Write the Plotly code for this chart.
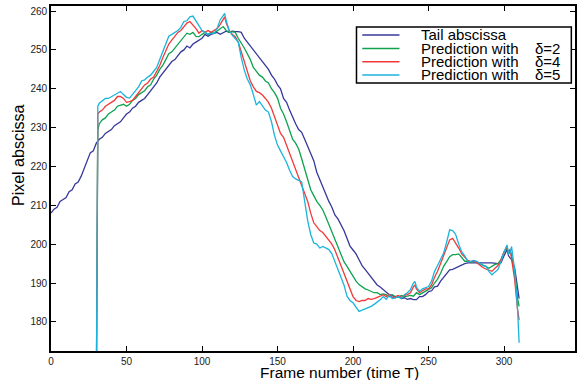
import plotly.graph_objects as go

# ---- data: (frame, pixel abscissa) ----
tail = [(0,208),(2,209),(4,209.5),(6,211),(8,211.5),(10,212),(12,213.5),(14,214),(16,215.5),(18,216),
        (20,217.5),(22,219.5),(24,221),(26,223.5),(28,224),(30,226),(32,227),(34,227.5),(36,228.5),(38,229),
        (40,229.5),(42,230.5),(44,231),(46,231.5),(48,232.5),(50,233.5),(52,234),(54,235),(56,235.5),(58,236.5),
        (60,237),(62,237.5),(64,238.5),(66,239.5),(68,240.5),(70,241.5),(72,243),(74,244),(76,245),(78,246),
        (80,247),(82,247.5),(84,248.5),(86,249.5),(88,250),(90,251),(92,250.5),(94,251.5),(96,252),(98,252.5),
        (100,253),(102,254),(104,253.5),(106,254),(108,254.2),(110,254.5),(112,254),(114,254.5),(116,254.8),(118,254.5),
        (120,254.8),(122,254.7),(124,254.7),(126,254.5),(128,253),(130,252),(132,251),(134,250),(136,249),(138,248),
        (140,246.8),(142,245.8),(144,245),(146,243.5),(148,242.5),(150,241),(152,240),(154,237.5),(156,236.5),(158,234.5),
        (160,232.5),(162,231),(164,229.5),(166,228.8),(168,227),(170,225),(172,223.5),(174,221.5),(176,218.5),(178,216.5),
        (180,215),(182,213),(184,211),(186,209.5),(188,207.5),(190,206.5),(192,205),(194,203.5),(196,201.5),(198,199.5),
        (200,198.5),(202,197.5),(204,196),(206,194.5),(208,193.5),(210,192.5),(212,191.2),(214,190.5),(216,189.5),(218,189),
        (220,188.3),(222,187.5),(224,187),(226,186.8),(228,186.2),(230,186.5),(232,186),(234,186.2),(236,185.8),(238,186),
        (240,185.7),(242,185.7),(244,186.5),(246,186.5),(248,187),(250,187.8),(252,188),(254,189),(256,189.2),(258,190.5),
        (260,191.5),(262,192.5),(264,193.4),(266,193.5),(268,193.9),(270,194.2),(272,194.8),(274,195),(276,195.2),(280,195.2),
        (284,195.3),(288,195.2),(292,195.2),(296,195),(298,195.2),(300,197),(302,198.6),(303,197),(305,196),(307,194),
        (309,188),(310,186)]

pred_d2 = [(30,160),(31,229.5),(32,231),(34,232),(36,232.5),(38,233.5),(40,234),(42,234.5),(44,235.5),(46,235.8),
           (48,236),(50,235.5),(52,236),(54,237),(56,237.5),(58,238.5),(60,239),(62,239.5),(64,240.5),(66,241),
           (68,242.5),(70,243.5),(72,245),(74,246),(76,247.5),(78,249),(80,249.5),(82,250.5),(84,251.5),(86,252.5),
           (88,253.5),(90,254.3),(92,254),(94,254.5),(96,253.5),(98,253.4),(100,254),(102,254.5),(104,254),(106,254.5),
           (108,254.3),(110,254.8),(112,255.5),(114,256),(116,255),(118,254.5),(120,254.7),(122,254.5),(124,253),(126,251.8),
           (128,250.5),(130,249),(132,247.5),(134,245.5),(136,244.4),(138,243.5),(140,243),(142,242),(144,241.5),(146,240),
           (148,239),(150,237.6),(152,235),(154,233.5),(156,231.5),(158,229),(160,227),(162,226),(164,224.5),(166,222),
           (168,219.5),(170,216.5),(172,214),(174,212.5),(176,211),(178,210),(180,208.8),(182,207),(184,205),(186,203.5),
           (188,201),(190,199),(192,197),(194,195.5),(196,194.3),(198,193),(200,192),(202,190.5),(204,189.6),(206,189),
           (208,188.5),(210,188.2),(212,187.8),(214,187.5),(216,187.5),(218,187),(220,187.2),(222,187),(224,186.5),(226,187),
           (228,186.5),(230,186.3),(232,186.8),(234,186.5),(236,186.6),(238,186.8),(240,186.6),(242,187.5),(244,187),(246,187.5),
           (248,187.8),(250,188.3),(252,188.8),(254,190),(256,191),(258,192.5),(260,194.3),(262,195.5),(264,196.8),(266,197.3),
           (268,197.3),(270,197.5),(272,196.5),(274,195.6),(276,195.6),(278,195.3),(280,195.6),(282,195.3),(284,195),(286,194.5),
           (288,194.3),(290,193.8),(292,194.3),(294,194.8),(296,195),(298,196),(300,198),(302,199),(303,197.5),(304,198.5),
           (305,197),(307,193),(309,186),(310,184)]

pred_d4 = [(30,160),(31,233.5),(32,234),(34,234.5),(36,235.5),(38,236),(40,236.5),(42,237),(44,238),(46,238),
           (48,237.5),(50,236.5),(52,236.7),(54,237),(56,238),(58,239),(60,240),(62,241),(64,241.5),(66,242.5),
           (68,243),(70,244.5),(72,246),(74,248),(76,250),(78,251.5),(80,252.5),(82,253.5),(84,254.5),(86,255),
           (88,256),(90,256.9),(92,257.3),(94,256.5),(96,255.5),(98,254.3),(100,255),(102,254.5),(104,255),(106,254.5),
           (108,255),(110,255.5),(112,256.5),(114,258),(115,258.5),(116,257),(118,255),(120,254),(122,253.4),(124,252),
           (126,249.5),(128,247),(130,244.5),(132,242),(134,240.5),(136,239.3),(138,239),(140,238.4),(142,237.5),(144,236.5),
           (146,235),(148,233),(150,231),(152,228.5),(154,227.5),(156,225.5),(158,223.5),(160,221),(162,219.5),(164,217.5),
           (166,215.5),(168,213.5),(170,211),(172,208),(174,205.5),(176,204.5),(178,203.5),(180,203),(182,202),(184,201.1),
           (186,200),(188,198.5),(190,196.5),(192,194.5),(194,192.5),(196,190.5),(198,188),(200,186.5),(202,185.5),(204,185.2),
           (206,185.5),(208,185.5),(210,186),(212,185.8),(214,186),(216,186.2),(218,186.6),(220,187),(222,186.5),(224,187),
           (226,186.2),(228,186.5),(230,186.8),(232,186.3),(234,186.8),(236,187),(238,187.5),(240,189),(241,189.5),(242,188.5),
           (244,187.5),(246,188),(248,188.5),(250,188.5),(252,189.5),(254,191.5),(256,193),(258,195),(260,197),(262,199.5),
           (264,201.1),(266,201.5),(268,200.3),(270,199),(272,197.5),(274,196.5),(276,195.8),(278,195.5),(280,195.8),(282,195.2),
           (284,194.5),(286,194),(288,193.6),(290,193.4),(292,193),(294,193.8),(296,194.5),(298,196),(300,198),(302,199.4),
           (303,197.5),(304,198.8),(305,196.5),(307,191),(309,183),(310,180.5)]

pred_d5 = [(30,160),(31,235.5),(32,236.3),(34,237),(36,237.5),(38,237.5),(40,238),(42,238.5),(44,239),(46,239.3),
           (48,238.5),(50,237.8),(52,237.6),(54,238.5),(56,239.5),(58,240.5),(60,242),(62,242.3),(64,243),(66,243.5),
           (68,244.5),(70,245.5),(72,247.5),(74,249.5),(76,251.5),(78,253.5),(80,254),(82,254.5),(84,255),(86,255.8),
           (88,257.3),(90,257.5),(92,258.5),(94,258.7),(96,257.5),(98,256),(100,255),(102,254.5),(104,254),(106,254.2),
           (108,254.3),(110,255.5),(112,257.7),(114,258.8),(115,259.4),(116,257.5),(118,255),(120,253.8),(122,253),(124,252),
           (126,248),(128,244.8),(130,242.5),(132,241),(134,238.5),(136,235.8),(138,236.7),(140,235.5),(142,234.5),(144,234),
           (146,231.5),(148,228),(150,225.5),(152,224),(154,222.5),(156,221),(158,219),(160,217.4),(162,216.8),(164,216.5),
           (166,216),(168,211),(170,206),(172,202.5),(174,200.3),(176,200),(178,199),(180,199.4),(182,199),(184,198.6),
           (186,197.5),(188,195.5),(190,193.5),(192,192),(194,189.5),(196,186.6),(198,185.5),(200,184.9),(202,183.8),(204,182.7),
           (206,183),(208,183.3),(210,183.6),(212,184),(214,184.5),(216,185),(218,185.7),(220,186.5),(222,185.8),(224,186.8),
           (226,186),(228,186.2),(230,186.5),(232,186),(234,187),(236,187.5),(238,188.3),(240,190),(241,190.4),(242,189),
           (244,187.8),(246,188.5),(248,188.8),(250,189.1),(252,190.5),(254,193),(256,194.5),(258,196),(260,197.7),(262,200.5),
           (264,203.7),(266,203.5),(268,202.5),(270,200),(272,198),(274,197),(276,195.6),(278,195.5),(280,195.8),(282,195.6),
           (284,195),(286,194.5),(288,194.3),(290,193),(292,192.1),(294,192.8),(296,193.5),(298,195.5),(300,198),(302,199.8),
           (303,197.5),(304,197.7),(305,199.4),(307,193.4),(309,183.1),(310,174.6)]

series_names = ["Tail abscissa", "Prediction with", "Prediction with", "Prediction with"]
delta_labels = ["", "δ=2", "δ=4", "δ=5"]
colors = ["#36389a", "#0ea24e", "#f03a3a", "#1ab4dc"]
x_ticks = [0, 50, 100, 150, 200, 250, 300]
y_ticks = [180, 190, 200, 210, 220, 230, 240, 250, 260]

FONT = "Liberation Sans"

fig = go.Figure()
for pts, name, col in zip([tail, pred_d2, pred_d4, pred_d5], series_names, colors):
    fig.add_trace(go.Scatter(x=[p[0] for p in pts], y=[p[1] for p in pts], mode="lines",
                             line=dict(color=col, width=1.3), name=name, showlegend=False))

axis_common = dict(showline=True, linecolor="black", linewidth=1.6, mirror="ticks",
                   ticks="inside", ticklen=5, tickwidth=1.2, tickcolor="black",
                   showgrid=False, zeroline=False,
                   tickfont=dict(family=FONT, size=10, color="#222"))
fig.update_xaxes(range=[0, 347], tickvals=x_ticks, **axis_common)
fig.update_yaxes(range=[172.5, 261.3], tickvals=y_ticks, **axis_common)

# legend box drawn manually to match the compact layout
L, R, B, T = 0.583, 0.993, 0.777, 0.939
shapes = [dict(type="rect", xref="paper", yref="paper", x0=L, x1=R, y0=B, y1=T,
               line=dict(color="black", width=1.5), fillcolor="white", layer="above")]
rows = [0.916, 0.877, 0.8385, 0.800]
annotations = []
for ry, name, dl, col in zip(rows, series_names, delta_labels, colors):
    shapes.append(dict(type="line", xref="paper", yref="paper", x0=0.594, x1=0.665, y0=ry, y1=ry,
                       line=dict(color=col, width=1.5), layer="above"))
    annotations.append(dict(xref="paper", yref="paper", x=0.705, y=ry, text=name, showarrow=False,
                            xanchor="left", yanchor="middle", borderpad=0,
                            font=dict(family=FONT, size=15, color="black")))
    if dl:
        annotations.append(dict(xref="paper", yref="paper", x=0.922, y=ry, text=dl, showarrow=False,
                                xanchor="left", yanchor="middle", borderpad=0,
                                font=dict(family=FONT, size=15, color="black")))

annotations.append(dict(xref="paper", yref="paper", x=0.551, y=-0.062, text="Frame number (time T)",
                        showarrow=False, xanchor="center", yanchor="middle", borderpad=0,
                        font=dict(family=FONT, size=15.5, color="black")))
annotations.append(dict(xref="paper", yref="paper", x=-0.063, y=0.568, text="Pixel abscissa",
                        showarrow=False, xanchor="center", yanchor="middle", textangle=-90,
                        font=dict(family=FONT, size=16, color="black")))

fig.update_layout(width=578, height=380, margin=dict(l=51, r=1, t=6, b=29),
                  plot_bgcolor="white", paper_bgcolor="white",
                  shapes=shapes, annotations=annotations, showlegend=False)

fig.write_html("out.html", config={"displayModeBar": False},
               post_script="document.body.style.margin='0';document.body.style.overflow='hidden';")
